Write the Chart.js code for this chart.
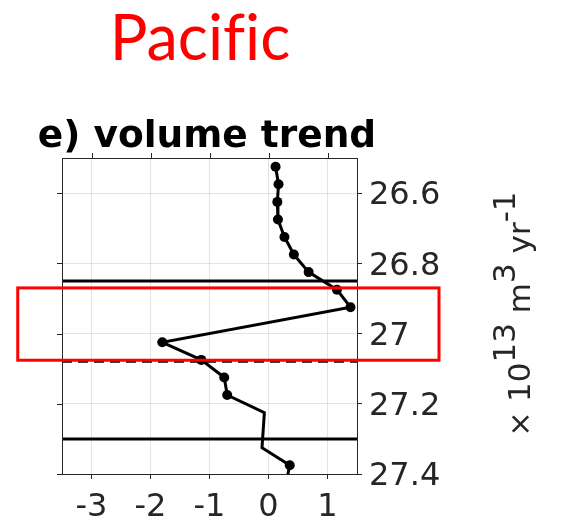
<!DOCTYPE html>
<html>
<head>
<meta charset="utf-8">
<script src="https://cdn.jsdelivr.net/npm/chart.js@4.4.0/dist/chart.umd.min.js"></script>
<style>
  html, body { margin: 0; padding: 0; background: #fff; }
  #wrap { width: 564px; height: 519px; position: relative; }
</style>
</head>
<body>
<div id="wrap"><canvas id="trendChart"></canvas></div>
<script>
// neutral density levels and volume trend (x 10^13 m^3 yr^-1)
const density = [26.525, 26.575, 26.625, 26.675, 26.725, 26.775, 26.825, 26.875, 26.925, 27.025, 27.075, 27.125, 27.175, 27.225, 27.325, 27.375, 27.425];
const trend = [0.12, 0.17, 0.15, 0.16, 0.27, 0.43, 0.68, 1.16, 1.39, -1.80, -1.14, -0.75, -0.70, -0.07, -0.11, 0.36, 0.30];
const marked = [1, 1, 1, 1, 1, 1, 1, 1, 1, 1, 1, 1, 1, 0, 0, 1, 0];

// layer boundaries and highlight
const layerBounds = [26.85, 27.3];
const dashedLevel = 27.08;
const boxX = [-4.25, 2.89];
const boxY = [26.87, 27.076];

const xTicks = [-3, -2, -1, 0, 1];
const yTicks = [26.6, 26.8, 27, 27.2, 27.4];
const xRange = [-3.5, 1.5];
const yRange = [26.5, 27.4];

const axisColor = '#262626';

function hLine(level, dash, width) {
    return {
        data: [{ x: xRange[0], y: level }, { x: xRange[1], y: level }],
        showLine: true,
        borderColor: '#000',
        borderWidth: width,
        borderDash: dash,
        pointRadius: 0,
        clip: 0
    };
}

const decor = {
    id: 'decor',
    afterDraw(chart) {
        const ctx = chart.ctx;
        const a = chart.chartArea;
        const xs = chart.scales.x, ys = chart.scales.y;
        ctx.save();

        // box + mirrored ticks
        ctx.strokeStyle = axisColor;
        ctx.lineWidth = 1;
        ctx.strokeRect(a.left + 0.5, a.top + 0.5, a.right - a.left, a.bottom - a.top);
        ctx.beginPath();
        xTicks.forEach(v => {
            const px = Math.round(xs.getPixelForValue(v)) + 0.5;
            ctx.moveTo(px, a.top);
            ctx.lineTo(px, a.top - 5);
        });
        yTicks.forEach(v => {
            const py = Math.round(ys.getPixelForValue(v)) + 0.5;
            ctx.moveTo(a.left, py);
            ctx.lineTo(a.left - 5, py);
        });
        ctx.stroke();

        // red highlight box
        ctx.strokeStyle = '#ff0000';
        ctx.lineWidth = 3;
        const bx0 = xs.getPixelForValue(boxX[0]), bx1 = xs.getPixelForValue(boxX[1]);
        const by0 = ys.getPixelForValue(boxY[0]), by1 = ys.getPixelForValue(boxY[1]);
        ctx.strokeRect(bx0, by0, bx1 - bx0, by1 - by0);

        // titles
        ctx.fillStyle = '#ff0000';
        ctx.font = '63px Lato';
        ctx.textAlign = 'center';
        ctx.textBaseline = 'alphabetic';
        ctx.fillText('Pacif\u200Cic', 200, 60);

        ctx.fillStyle = '#000';
        ctx.font = 'bold 37.5px "DejaVu Sans"';
        ctx.fillText('e) volume trend', 207, 147);

        // rotated unit label
        const parts = [
            { t: '\u00d7 ', size: 30, sup: false },
            { t: '10', size: 31, sup: false },
            { t: '13', size: 31, sup: true },
            { t: ' m', size: 31, sup: false },
            { t: '3', size: 31, sup: true },
            { t: ' yr', size: 31, sup: false },
            { t: '-1', size: 31, sup: true }
        ];
        ctx.translate(530, 314);
        ctx.rotate(-Math.PI / 2);
        ctx.fillStyle = axisColor;
        ctx.textAlign = 'left';
        let total = 0;
        parts.forEach(p => {
            ctx.font = p.size + 'px "DejaVu Sans"';
            p.w = ctx.measureText(p.t).width;
            total += p.w;
        });
        let cx = -total / 2;
        parts.forEach(p => {
            ctx.font = p.size + 'px "DejaVu Sans"';
            ctx.fillText(p.t, cx, p.sup ? -15 : 0);
            cx += p.w;
        });
        ctx.restore();
    }
};

const ctx = document.getElementById('trendChart').getContext('2d');
const chart = new Chart(ctx, {
    type: 'scatter',
    data: {
        datasets: [
            {
                data: density.map((d, i) => ({ x: trend[i], y: d })),
                showLine: true,
                borderColor: '#000',
                borderWidth: 3,
                pointRadius: c => marked[c.dataIndex] ? 5 : 0,
                pointBackgroundColor: '#000',
                pointBorderWidth: 0,
                clip: 0
            },
            hLine(layerBounds[0], [], 3),
            hLine(layerBounds[1], [], 3),
            hLine(dashedLevel, [10, 6], 2)
        ]
    },
    options: {
        responsive: true,
        maintainAspectRatio: false,
        animation: false,
        devicePixelRatio: 1,
        layout: { padding: { left: 62, top: 158, right: 0, bottom: 0 } },
        plugins: {
            legend: { display: false },
            tooltip: { enabled: false },
            title: { display: false }
        },
        scales: {
            x: {
                type: 'linear',
                position: 'bottom',
                min: xRange[0],
                max: xRange[1],
                afterBuildTicks: s => { s.ticks = xTicks.map(v => ({ value: v })); },
                afterFit: s => { s.height = 45; },
                border: { display: false },
                grid: { color: 'rgba(38,38,38,0.13)', lineWidth: 1, tickLength: 5, tickColor: axisColor },
                ticks: {
                    color: axisColor,
                    font: { family: 'DejaVu Sans', size: 32 },
                    padding: 9,
                    maxRotation: 0,
                    autoSkip: false,
                    callback: v => String(v)
                }
            },
            y: {
                type: 'linear',
                position: 'right',
                reverse: true,
                min: yRange[0],
                max: yRange[1],
                afterBuildTicks: s => { s.ticks = yTicks.map(v => ({ value: v })); },
                afterFit: s => { s.width = 207; },
                border: { display: false },
                grid: { color: 'rgba(38,38,38,0.13)', lineWidth: 1, tickLength: 5, tickColor: axisColor },
                ticks: {
                    color: axisColor,
                    font: { family: 'DejaVu Sans', size: 32 },
                    padding: 7,
                    labelOffset: 3,
                    autoSkip: false,
                    callback: v => String(v)
                }
            }
        }
    },
    plugins: [decor]
});
</script>
</body>
</html>
